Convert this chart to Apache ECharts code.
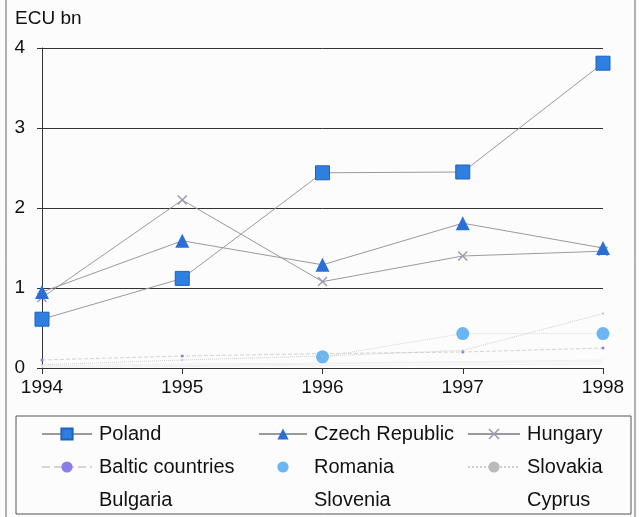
<!DOCTYPE html>
<html><head><meta charset="utf-8">
<script src="https://cdn.jsdelivr.net/npm/echarts@6/dist/echarts.min.js"></script>
<style>html,body{margin:0;padding:0;background:#fcfcfc}#c{width:639px;height:517px}</style>
</head><body><div id="c"></div>
<script>
var years = ['1994','1995','1996','1997','1998'];
var yTicks = [0,1,2,3,4];
var poland   = [0.61, 1.12, 2.44, 2.45, 3.81];
var czech    = [0.95, 1.59, 1.29, 1.81, 1.50];
var hungary  = [0.88, 2.10, 1.08, 1.40, 1.46];
var baltic   = [0.10, 0.15, 0.18, 0.20, 0.25];
var romania  = [null, null, 0.14, 0.43, 0.43];
var slovakia = [0.04, 0.10, 0.15, 0.22, 0.68];
var bulgaria = [0.02, 0.03, 0.05, 0.08, 0.10];
var slovenia = [0.03, 0.05, 0.06, 0.07, 0.08];
var cyprus   = [0.01, 0.02, 0.03, 0.04, 0.05];

var FONT = 'Liberation Sans, Arial, sans-serif';
var xPath = 'path://M0,1L1,0L5,4L9,0L10,1L6,5L10,9L9,10L5,6L1,10L0,9L4,5Z';

function ser(name, data, o) {
  return Object.assign({
    name: name, type: 'line', data: data, smooth: false,
    lineStyle: {width: 1, color: '#9a9a9a'},
    itemStyle: {color: '#9a9a9a'},
    emphasis: {disabled: true}
  }, o);
}
function hidden() { return {itemStyle: {opacity: 0}, lineStyle: {opacity: 0}}; }
function item(name, extra) { return Object.assign({name: name}, extra || {}); }

var chart = echarts.init(document.getElementById('c'), null, {renderer: 'canvas'});
var legendText = {fontFamily: FONT, fontSize: 20, lineHeight: 20, color: '#111', padding: [0, 0, 0, 2]};
function leg(left, w, names) {
  return {orient: 'vertical', left: left, top: 424, padding: 0, height: 100, itemGap: 13, itemWidth: w, itemHeight: 14,
    data: names, textStyle: legendText, selectedMode: false};
}
chart.setOption({
  animation: false,
  backgroundColor: '#fcfcfc',
  grid: {left: 42, right: 36, top: 48, bottom: 149, containLabel: false},
  xAxis: {
    type: 'category', data: years, boundaryGap: false,
    axisLine: {lineStyle: {color: '#333', width: 1}},
    axisTick: {show: true, length: 6, lineStyle: {color: '#333'}},
    axisLabel: {fontFamily: FONT, fontSize: 19, color: '#111', margin: 10}
  },
  yAxis: {
    type: 'value', min: yTicks[0], max: yTicks[yTicks.length-1], interval: 1,
    name: 'ECU bn', nameLocation: 'end', nameGap: 20,
    nameTextStyle: {fontFamily: FONT, fontSize: 19, color: '#111', align: 'left', padding: [0,0,0,-27]},
    axisLine: {show: true, lineStyle: {color: '#333'}},
    axisTick: {show: true, length: 5, lineStyle: {color: '#333'}},
    axisLabel: {fontFamily: FONT, fontSize: 19, color: '#111', margin: 17},
    splitLine: {show: true, lineStyle: {color: '#333', width: 1}}
  },
  legend: [
    leg(41, 50, [item('Poland'), item('Baltic countries'), item('Bulgaria', hidden())]),
    leg(258, 48, [item('Czech Republic'), item('Romania', {lineStyle: {opacity: 0}}), item('Slovenia', hidden())]),
    leg(467, 52, [item('Hungary'), item('Slovakia'), item('Cyprus', hidden())])
  ],
  graphic: [
    {type: 'rect', shape: {x: 16, y: 416, width: 615, height: 98}, style: {fill: 'none', stroke: '#555', lineWidth: 1}, silent: true},
    {type: 'line', shape: {x1: 6, y1: 0, x2: 6, y2: 517}, style: {stroke: '#666', lineWidth: 1}, silent: true},
    {type: 'line', shape: {x1: 635, y1: 0, x2: 635, y2: 517}, style: {stroke: '#666', lineWidth: 1}, silent: true}
  ],
  series: [
    ser('Poland', poland, {symbol: 'rect', symbolSize: 14, itemStyle: {color: '#2f7fe0', borderColor: '#1e62c0', borderWidth: 1}, z: 5}),
    ser('Czech Republic', czech, {symbol: 'triangle', symbolSize: 14, itemStyle: {color: '#2a6fd8'}, z: 5}),
    ser('Hungary', hungary, {symbol: xPath, symbolSize: 10, itemStyle: {color: '#9a9ab0'}}),
    ser('Baltic countries', baltic, {symbol: 'circle', symbolSize: 3, itemStyle: {color: '#8a7ee8'}, lineStyle: {width: 1, color: '#d4d4d4', type: 'dashed'}}),
    ser('Romania', romania, {symbol: 'circle', symbolSize: 13, itemStyle: {color: '#6ab6f2'}, lineStyle: {width: 1, color: '#d8d8d8', type: 'dotted'}}),
    ser('Slovakia', slovakia, {symbol: 'circle', symbolSize: 2, itemStyle: {color: '#bbbbbb'}, lineStyle: {width: 1, color: '#cfcfcf', type: 'dotted'}}),
    ser('Bulgaria', bulgaria, {symbol: 'none', lineStyle: {width: 1, color: '#f0f0f0'}}),
    ser('Slovenia', slovenia, {symbol: 'none', lineStyle: {width: 1, color: '#f0f0f0'}}),
    ser('Cyprus', cyprus, {symbol: 'none', lineStyle: {width: 1, color: '#f0f0f0'}})
  ]
});
</script></body></html>
